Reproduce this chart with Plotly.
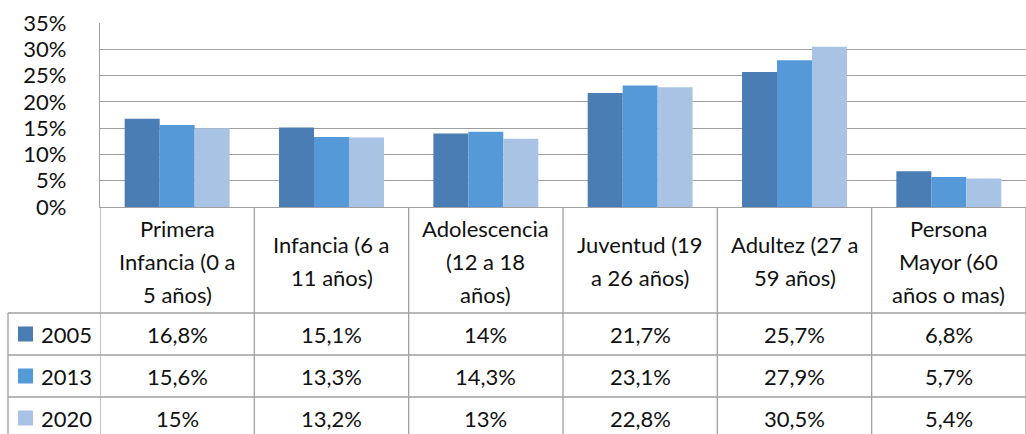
import plotly.graph_objects as go

# categories (header of the data table, already wrapped as in the chart)
categorias = ["Primera Infancia (0 a 5 años)", "Infancia (6 a 11 años)",
              "Adolescencia (12 a 18 años)", "Juventud (19 a 26 años)",
              "Adultez (27 a 59 años)", "Persona Mayor (60 años o mas)"]
encabezados = [["Primera", "Infancia (0 a", "5 años)"],
               ["Infancia (6 a", "11 años)"],
               ["Adolescencia", "(12 a 18", "años)"],
               ["Juventud (19", "a 26 años)"],
               ["Adultez (27 a", "59 años)"],
               ["Persona", "Mayor (60", "años o mas)"]]

anios = ["2005", "2013", "2020"]
v2005 = [16.8, 15.1, 14.0, 21.7, 25.7, 6.8]
v2013 = [15.6, 13.3, 14.3, 23.1, 27.9, 5.7]
v2020 = [15.0, 13.2, 13.0, 22.8, 30.5, 5.4]
series = [v2005, v2013, v2020]
colores = ["#4a7db3", "#5699d8", "#a9c3e5"]

y_ticks = [0, 5, 10, 15, 20, 25, 30, 35]
y_labels = ["0%", "5%", "10%", "15%", "20%", "25%", "30%", "35%"]

FONT = "Lato"
FS = 22
GRID = "#a0a0a0"

# plot area geometry (pixels)
L, T, W, H = 100, 23, 926, 184


def px(p):
    return (p - L) / W


def py(p):
    return (T + H - p) / H


def fmt(v):
    s = f"{v:.1f}".replace(".", ",")
    if s.endswith(",0"):
        s = s[:-2]
    return s + "%"


fig = go.Figure()
for anio, vals, col in zip(anios, series, colores):
    fig.add_trace(go.Bar(x=list(range(len(categorias))), y=vals, name=anio,
                         marker=dict(color=col, line=dict(width=0)),
                         hovertext=categorias))

shapes = []
annotations = []
n = len(categorias)

# table grid
row_top = [313, 355, 397]
row_h = 42
for i in range(n + 1):
    shapes.append(dict(type="line", xref="x", yref="paper", x0=i - 0.5, x1=i - 0.5,
                       y0=py(T + H), y1=py(440), line=dict(color=GRID, width=1.3)))
for r in row_top:
    shapes.append(dict(type="line", xref="paper", yref="paper", x0=px(8), x1=1,
                       y0=py(r), y1=py(r), line=dict(color=GRID, width=1.3)))
shapes.append(dict(type="line", xref="paper", yref="paper", x0=px(8), x1=px(8),
                   y0=py(313), y1=py(440), line=dict(color=GRID, width=1.3)))

# header labels
for i, lines in enumerate(encabezados):
    k = len(lines)
    for j, t in enumerate(lines):
        yc = 261 + (j - (k - 1) / 2) * 33
        annotations.append(dict(x=i, y=py(yc), xref="x", yref="paper", text=t,
                                showarrow=False, xanchor="center", yanchor="middle",
                                font=dict(family=FONT, size=FS, color="#111")))

# value rows with legend keys
for r, (anio, vals, col) in enumerate(zip(anios, series, colores)):
    yc = row_top[r] + row_h / 2
    shapes.append(dict(type="rect", xref="paper", yref="paper", x0=px(18), x1=px(33),
                       y0=py(yc + 7.5), y1=py(yc - 7.5), fillcolor=col,
                       line=dict(width=0)))
    annotations.append(dict(x=px(39), y=py(yc), xref="paper", yref="paper", text=anio,
                            showarrow=False, xanchor="left", yanchor="middle",
                            font=dict(family=FONT, size=FS, color="#111")))
    for i, v in enumerate(vals):
        annotations.append(dict(x=i, y=py(yc), xref="x", yref="paper", text=fmt(v),
                                showarrow=False, xanchor="center", yanchor="middle",
                                font=dict(family=FONT, size=FS, color="#111")))

fig.update_layout(
    width=1026, height=434,
    margin=dict(l=L, r=0, t=T, b=434 - T - H),
    paper_bgcolor="white", plot_bgcolor="white",
    barmode="group", bargap=0.32, bargroupgap=0,
    showlegend=False,
    font=dict(family=FONT, size=FS, color="#111"),
    xaxis=dict(range=[-0.5, n - 0.5], showticklabels=False, showgrid=False,
               zeroline=False, showline=True, linecolor=GRID, linewidth=1.3,
               fixedrange=True),
    yaxis=dict(range=[0, 35], tickmode="array", tickvals=y_ticks, ticktext=y_labels,
               showgrid=True, gridcolor=GRID, gridwidth=1.3, zeroline=False,
               showline=True, linecolor=GRID, linewidth=1.3, ticks="",
               ticklabelstandoff=28,
               tickfont=dict(family=FONT, size=FS, color="#111"), fixedrange=True),
    shapes=shapes, annotations=annotations,
)

fig.write_html("out.html", config={"displayModeBar": False},
               post_script="document.body.style.margin='0';")
